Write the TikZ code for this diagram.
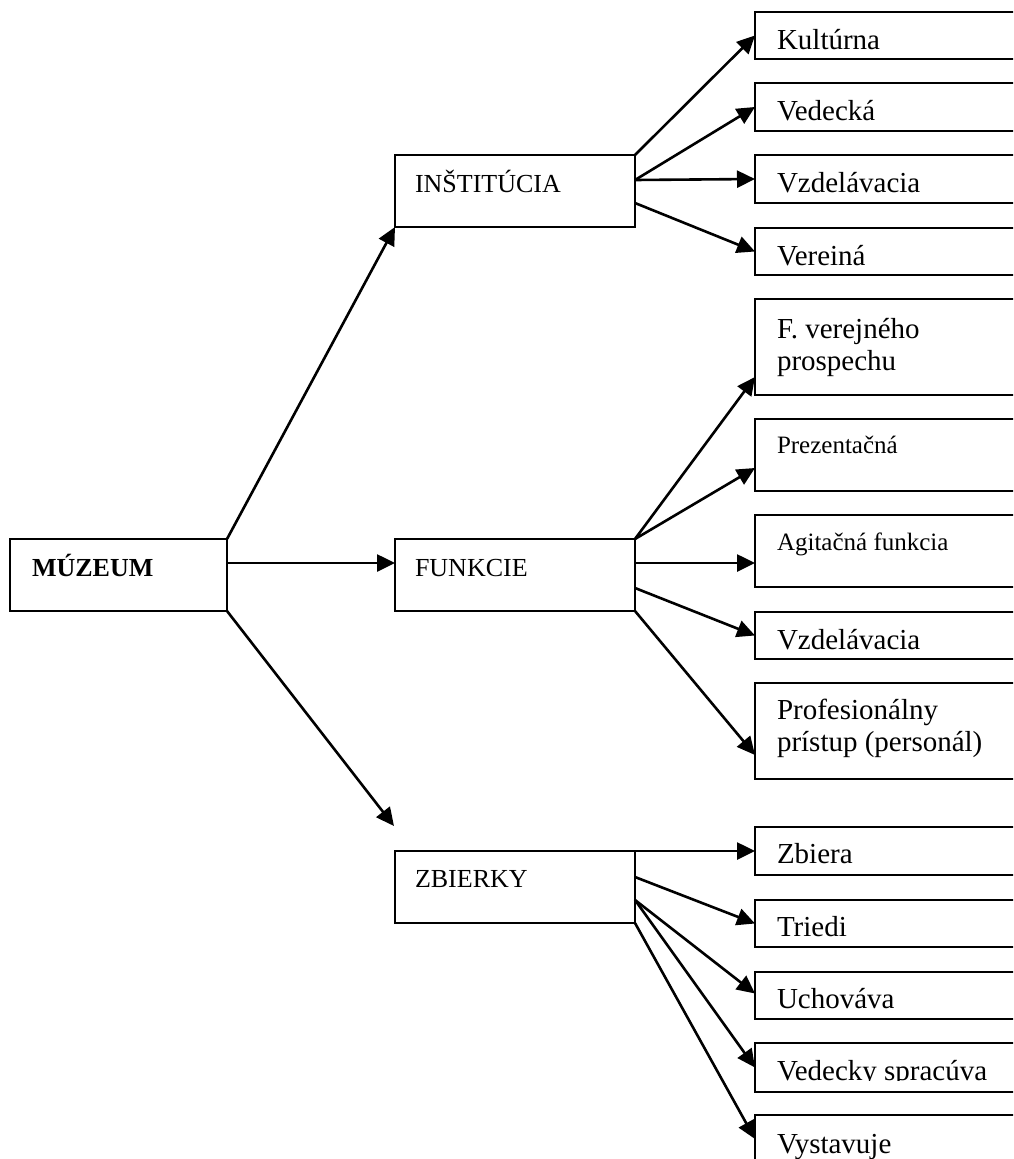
\documentclass[tikz,border=0pt]{standalone}
\usepackage{fontspec}
\setmainfont{Liberation Serif}
\usetikzlibrary{arrows.meta}
\begin{document}
\begin{tikzpicture}[x=1pt,y=-1pt,
  box/.style 2 args={draw, line width=2.2pt, rectangle, anchor=north west,
    inner sep=0pt, outer sep=0pt, minimum width=#1, minimum height=#2},
  leaf/.style={box={300pt}{#1}},
  lbl/.style={anchor=base west, inner sep=0pt, outer sep=0pt,
    font=\fontsize{29}{32}\selectfont},
  midlbl/.style={lbl, font=\fontsize{26}{30}\selectfont},
  smalllbl/.style={lbl, font=\fontsize{25}{30}\selectfont},
  arr/.style={line width=2.6pt, -{Triangle[length=18pt,width=17pt]}}]

\useasboundingbox (0,0) rectangle (1013,1159);
\clip (0,0) rectangle (1013,1159);

% root
\node[box={217pt}{72pt}] (muz) at (10,539) {};
\node[midlbl, font=\bfseries\fontsize{26}{30}\selectfont] (muzT)
  at ([shift={(22,37)}]muz.north west) {MÚZEUM};

% second level
\node[box={240pt}{72pt}] (inst) at (395,155) {};
\node[midlbl] (instT) at ([shift={(20,37)}]inst.north west) {INŠTITÚCIA};
\node[box={240pt}{72pt}] (fun) at (395,539) {};
\node[midlbl] (funT) at ([shift={(20,37)}]fun.north west) {FUNKCIE};
\node[box={240pt}{72pt}] (zb) at (395,851) {};
\node[midlbl] (zbT) at ([shift={(20,36)}]zb.north west) {ZBIERKY};

% institution
\node[leaf=47pt] (k1) at (755,12) {};
\node[lbl] (k1T) at ([shift={(22,37)}]k1.north west) {Kultúrna};
\node[leaf=48pt] (k2) at (755,83) {};
\node[lbl] (k2T) at ([shift={(22,37)}]k2.north west) {Vedecká};
\node[leaf=48pt] (k3) at (755,155) {};
\node[lbl] (k3T) at ([shift={(22,37)}]k3.north west) {Vzdelávacia};
\node[leaf=47pt] (k4) at (755,228) {};
\node[lbl] (k4T) at ([shift={(22,37)}]k4.north west) {Vereiná};

% functions
\node[leaf=96pt] (f1) at (755,299) {};
\node[lbl] (f1T) at ([shift={(22,39)}]f1.north west)
  {\vtop{\baselineskip=32pt\hbox{F. verejného}\hbox{prospechu}}};
\node[leaf=72pt] (f2) at (755,419) {};
\node[smalllbl] (f2T) at ([shift={(22,34)}]f2.north west) {Prezentačná};
\node[leaf=72pt] (f3) at (755,515) {};
\node[smalllbl] (f3T) at ([shift={(22,35)}]f3.north west) {Agitačná funkcia};
\node[leaf=47pt] (f4) at (755,612) {};
\node[lbl] (f4T) at ([shift={(22,37)}]f4.north west) {Vzdelávacia};
\node[leaf=96pt] (f5) at (755,683) {};
\node[lbl] (f5T) at ([shift={(22,36)}]f5.north west)
  {\vtop{\baselineskip=32pt\hbox{Profesionálny}\hbox{prístup (personál)}}};

% collections
\node[leaf=48pt] (z1) at (755,827) {};
\node[lbl] (z1T) at ([shift={(22,36)}]z1.north west) {Zbiera};
\node[leaf=47pt] (z2) at (755,900) {};
\node[lbl] (z2T) at ([shift={(22,36)}]z2.north west) {Triedi};
\node[leaf=47pt] (z3) at (755,972) {};
\node[lbl] (z3T) at ([shift={(22,36)}]z3.north west) {Uchováva};
\node[leaf=49pt] (z4) at (755,1043) {};
\begin{scope}
  \clip (755,1043) rectangle (1013,1080);
  \node[lbl] (z4T) at ([shift={(22,37)}]z4.north west) {Vedecky spracúva};
\end{scope}
\node[leaf=48pt] (z5) at (755,1115) {};
\node[lbl] (z5T) at ([shift={(22,38)}]z5.north west) {Vystavuje};

% connectors from the root
\draw[arr] (muz.north east) -- (inst.south west);
\draw[arr] ([yshift=12pt]muz.east) -- ([yshift=12pt]fun.west);
\draw[arr] (muz.south east) -- ([shift={(-1,-25)}]zb.north west);

% connectors from INŠTITÚCIA
\draw[arr] (inst.north east) -- (k1.west);
\draw[arr] ([yshift=11pt]inst.east) -- (k2.west);
\draw[arr] ([yshift=11pt]inst.east) -- (k3.west);
\draw[arr] ([yshift=-12pt]inst.east) -- (k4.west);

% connectors from FUNKCIE
\draw[arr] (fun.north east) -- ([yshift=-30pt]f1.west);
\draw[arr] (fun.north east) -- ([yshift=-13pt]f2.west);
\draw[arr] ([yshift=12pt]fun.east) -- ([yshift=-12pt]f3.west);
\draw[arr] ([yshift=-13pt]fun.east) -- (f4.west);
\draw[arr] (fun.south east) -- ([yshift=-24pt]f5.west);

% connectors from ZBIERKY
\draw[arr] (zb.north east) -- (z1.west);
\draw[arr] ([yshift=10pt]zb.east) -- (z2.west);
\draw[arr] ([yshift=-13pt]zb.east) -- ([yshift=2pt]z3.west);
\draw[arr] ([yshift=-13pt]zb.east) -- (z4.west);
\draw[arr] (zb.south east) -- (z5.west);
\end{tikzpicture}
\end{document}
